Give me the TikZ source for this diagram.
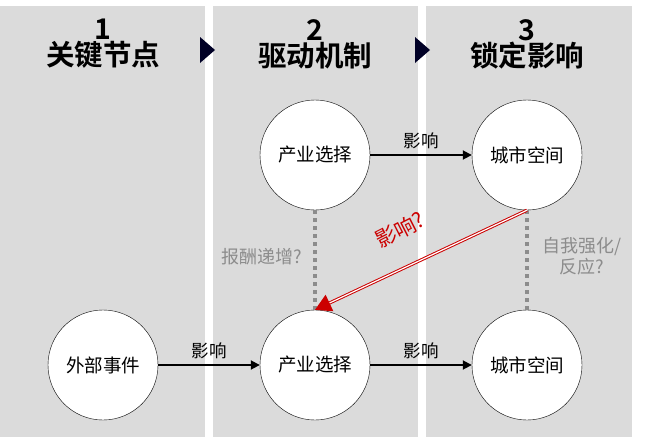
\documentclass[tikz,border=0pt]{standalone}
\usepackage{fontspec}
\setmainfont{Noto Sans CJK SC}
\newfontfamily\hd{Noto Sans CJK SC Bold}
\usetikzlibrary{arrows.meta}
\begin{document}
\begin{tikzpicture}[x=1pt,y=-1pt,
  col/.style={fill=black!14,draw=none},
  circ/.style={circle,draw=black,fill=white,minimum size=110pt,inner sep=0pt,font=\fontsize{18.5}{20}\selectfont},
  hdr/.style={font=\hd\fontsize{28.5}{31}\selectfont,align=center},
  arr/.style={draw=black,line width=1.8pt,-{Triangle[length=9pt,width=9pt]}},
  lbl/.style={font=\fontsize{17.5}{20}\selectfont},
  glbl/.style={font=\fontsize{18}{21}\selectfont,text=black!45,align=center},
  dots/.style={draw=black!45,line width=4pt,dash pattern=on 4pt off 4pt}]
\useasboundingbox (0,0) rectangle (650,439);
\fill[col] (0,6) rectangle (205,437);
\fill[col] (213,6) rectangle (418,437);
\fill[col] (426,6) rectangle (632,437);
\fill[black!85!blue] (200,37) -- (215,50) -- (200,63) -- cycle;
\fill[black!85!blue] (415,37) -- (430,50) -- (415,63) -- cycle;
\node[hdr] (h1) at (103,44) {1\\[-5pt]关键节点};
\node[hdr] (h2) at (315,44) {2\\[-5pt]驱动机制};
\node[hdr] (h3) at (527,44) {3\\[-5pt]锁定影响};
\node[circ] (a) at (315,155) {产业选择};
\node[circ] (b) at (527,155) {城市空间};
\node[circ] (c) at (103,365) {外部事件};
\node[circ] (d) at (315,365) {产业选择};
\node[circ] (e) at (527,365) {城市空间};
\draw[dots] (a.south) -- (d.north);
\draw[dots] (b.south) -- (e.north);
\draw[arr] (a) -- node[lbl,above=2pt]{影响} (b);
\draw[arr] (c) -- node[lbl,above=2pt]{影响} (d);
\draw[arr] (d) -- node[lbl,above=2pt]{影响} (e);
\node[glbl] (g1) at (262,257) {报酬递增?};
\node[glbl] (g2) at (582,256) {自我强化/\\反应?};
\draw[draw=red!80!black,double=white,double distance=1.2pt,line width=1pt,-{Triangle[length=16pt,width=18pt,fill=red!80!black]}] (b.south) -- (d.north);
\node[font=\fontsize{21}{24}\selectfont,text=red!80!black,rotate=27] (q) at (400,230) {影响?};
\end{tikzpicture}
\end{document}
